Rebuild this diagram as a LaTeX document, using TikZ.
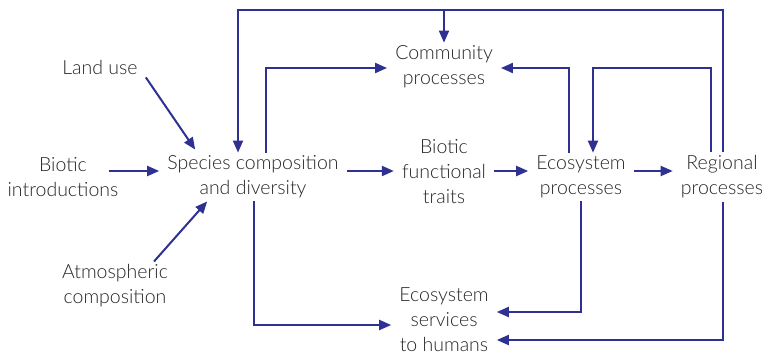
\documentclass[tikz,border=0pt]{standalone}
\usepackage{fontspec}
\IfFontExistsTF{Lato Light}{\setmainfont{Lato Light}}{\setmainfont{Lato}}
\usetikzlibrary{arrows.meta}
\definecolor{flow}{HTML}{2E3192}
\definecolor{ink}{HTML}{262626}
\begin{document}
\begin{tikzpicture}[x=1pt,y=-1pt,
  lbl/.style={align=center, font=\fontsize{19.5}{25}\selectfont, text=ink,
              inner xsep=8pt, inner ysep=3pt},
  arr/.style={draw=flow, line width=2pt, -{Triangle[length=12pt,width=10pt]}}]
\useasboundingbox (0,0) rectangle (762,356);

% labels
\node[lbl] (land)      at (100,67)  {Land use};
\node[lbl] (intro)     at (63,177)  {Biotic\\introductions};
\node[lbl] (atm)       at (115,286) {Atmospheric\\composition};
\node[lbl] (species)   at (253,177) {Species composition\\and diversity};
\node[lbl] (traits)    at (444,172) {Biotic\\functional\\traits};
\node[lbl] (ecosystem) at (581,177) {Ecosystem\\processes};
\node[lbl] (regional)  at (722,177) {Regional\\processes};
\node[lbl] (community) at (444,67)  {Community\\processes};
\node[lbl] (services)  at (444,320) {Ecosystem\\services\\to humans};

% guide rows and columns for the orthogonal connectors
\coordinate (row)  at (0,171);
\coordinate (top)  at (0,10);
\coordinate (mid)  at (0,68);
\coordinate (lo1)  at (0,312);
\coordinate (lo2)  at (0,325);
\coordinate (lo3)  at (0,340);
\coordinate (xa) at (238,0);
\coordinate (xb) at (266,0);
\coordinate (xc) at (444,0);
\coordinate (xd) at (569,0);
\coordinate (xe) at (593,0);
\coordinate (xf) at (711,0);
\coordinate (xg) at (723,0);
\coordinate (xh) at (581,0);
\coordinate (xi) at (254,0);

% drivers
\draw[arr] (land.south east) -- ([xshift=36pt,yshift=3pt]species.north west);
\draw[arr] ([xshift=-18pt]intro.east |- row) -- (species.west |- row);
\draw[arr] ([xshift=39pt]atm.north) -- ([xshift=48pt]species.south west);

% main chain
\draw[arr] (species.east |- row) -- (traits.west |- row);
\draw[arr] (traits.east |- row) -- (ecosystem.west |- row);
\draw[arr] (ecosystem.east |- row) -- (regional.west |- row);

% feedback loops over the top
\draw[arr] (regional.north -| xg) -- (top -| xg) -- (top -| xa) -- (species.north -| xa);
\draw[arr] (top -| xc) -- (community.north);
\draw[arr] (species.north -| xb) -- (mid -| xb) -- (community.west |- mid);
\draw[arr] (ecosystem.north -| xd) -- (mid -| xd) -- (community.east |- mid);
\draw[arr] (regional.north -| xf) -- (mid -| xf) -- (mid -| xe) -- (ecosystem.north -| xe);

% services
\draw[arr] (species.south -| xi) -- (lo2 -| xi) -- (services.west |- lo2);
\draw[arr] (ecosystem.south -| xh) -- (lo1 -| xh) -- (services.east |- lo1);
\draw[arr] (regional.south -| xg) -- (lo3 -| xg) -- (services.east |- lo3);
\end{tikzpicture}
\end{document}
